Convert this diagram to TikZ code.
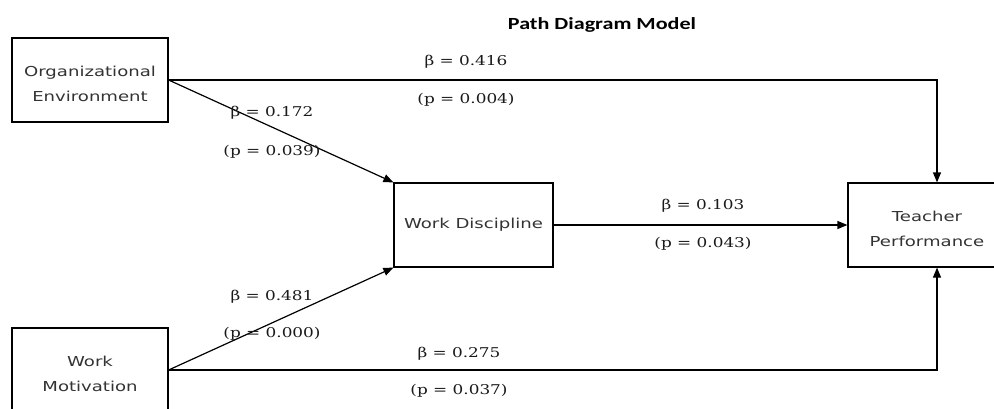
\documentclass[tikz,border=0pt]{standalone}
\usepackage{fontspec}
\usepackage{tikz}
\usetikzlibrary{arrows.meta,positioning,calc}
\newfontfamily\boxfont[FakeStretch=1.32]{DejaVu Sans}
\newfontfamily\coeffont[FakeStretch=1.25]{DejaVu Serif}
\newfontfamily\headfont[FakeStretch=1.3]{Carlito}
\definecolor{boxtext}{HTML}{333333}
\definecolor{coeftext}{HTML}{1A1A1A}
\newcommand{\boxstrut}{\rule{0pt}{18pt}}
\tikzset{
	varbox/.style={rectangle, draw=black, line width=1.2pt, minimum width=156pt,
		minimum height=84pt, inner sep=0pt, align=center, text=boxtext,
		font=\boxfont\fontsize{13.7}{25}\selectfont},
	coef/.style={inner sep=0pt, text=coeftext, font=\coeffont\fontsize{13.5}{16}\selectfont},
	patharr/.style={-{Triangle[length=10pt,width=8pt]}, line width=1.2pt}
}
\begin{document}
\begin{tikzpicture}[x=1pt,y=-1pt]
	\useasboundingbox (0,0) rectangle (994,408);
	\node[font=\headfont\bfseries\fontsize{17}{20}\selectfont] (title) at (602,25) {Path Diagram Model};
	% variables
	\node[varbox] (env) at (90,80) {\boxstrut Organizational\\Environment};
	\node[varbox, minimum width=159pt] (disc) at (473.5,225) {Work Discipline};
	\node[varbox, minimum width=158pt] (perf) at (927,225) {\boxstrut Teacher\\Performance};
	\node[varbox] (motiv) at (90,370) {\boxstrut Work\\Motivation};
	\coordinate (dropx) at (937,0);
	% paths
	\draw[patharr] (env.east) -- (dropx |- env.east) -- (dropx |- perf.north);
	\draw[patharr] (env.east) -- (disc.north west);
	\draw[patharr] (disc.east) -- (perf.west);
	\draw[patharr] (motiv.east) -- (disc.south west);
	\draw[patharr] (motiv.east) -- (dropx |- motiv.east) -- (dropx |- perf.south);
	% coefficients
	\node[coef] (b1) at (466,62) {β = 0.416};
	\node[coef] (p1) at (466,100) {(p = 0.004)};
	\node[coef] (b2) at (272,113) {β = 0.172};
	\node[coef] (p2) at (272,152) {(p = 0.039)};
	\node[coef] (b3) at (703,206) {β = 0.103};
	\node[coef] (p3) at (703,244) {(p = 0.043)};
	\node[coef] (b4) at (272,297) {β = 0.481};
	\node[coef] (p4) at (272,334) {(p = 0.000)};
	\node[coef] (b5) at (459,354) {β = 0.275};
	\node[coef] (p5) at (459,391) {(p = 0.037)};
\end{tikzpicture}
\end{document}
